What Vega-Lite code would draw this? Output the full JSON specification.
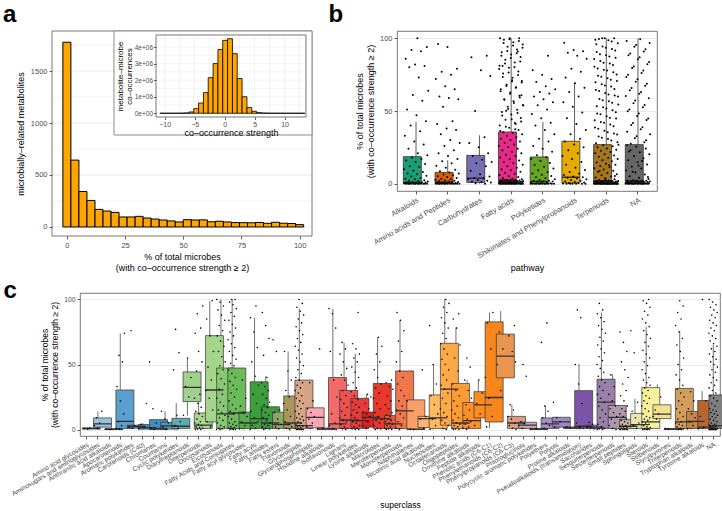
{
"$schema":"https://vega.github.io/schema/vega-lite/v6.json",
"background":"white",
"padding":{"left":3,"top":2,"right":0,"bottom":0},
"config":{
"font":"Liberation Sans",
"view":{"stroke":"#555555","strokeWidth":0.8},
"axis":{"domain":false,"tickColor":"#333333","tickSize":3,"tickWidth":0.8,"labelColor":"#4D4D4D","labelFontSize":7.5,"labelPadding":2,"titleFontSize":9,"titleFontWeight":"normal","titleColor":"#000000","gridColor":"#E6E6E6","gridWidth":0.9,"titlePadding":4,"labelOverlap":false},
"title":{"fontSize":24,"fontWeight":"bold","font":"Liberation Sans","anchor":"start","color":"#000000"}
},
"datasets":{
"ha":[{"lo":-1.72,"hi":1.72,"n":1777},{"lo":1.72,"hi":5.17,"n":643},{"lo":5.17,"hi":8.62,"n":341},{"lo":8.62,"hi":12.07,"n":255},{"lo":12.07,"hi":15.52,"n":169},{"lo":15.52,"hi":18.97,"n":153},{"lo":18.97,"hi":22.41,"n":140},{"lo":22.41,"hi":25.86,"n":96},{"lo":25.86,"hi":29.31,"n":96},{"lo":29.31,"hi":32.76,"n":102},{"lo":32.76,"hi":36.21,"n":86},{"lo":36.21,"hi":39.66,"n":76},{"lo":39.66,"hi":43.1,"n":67},{"lo":43.1,"hi":46.55,"n":58},{"lo":46.55,"hi":50,"n":48},{"lo":50,"hi":53.45,"n":70},{"lo":53.45,"hi":56.9,"n":67},{"lo":56.9,"hi":60.34,"n":68},{"lo":60.34,"hi":63.79,"n":50},{"lo":63.79,"hi":67.24,"n":55},{"lo":67.24,"hi":70.69,"n":48},{"lo":70.69,"hi":74.14,"n":42},{"lo":74.14,"hi":77.59,"n":41},{"lo":77.59,"hi":81.03,"n":40},{"lo":81.03,"hi":84.48,"n":43},{"lo":84.48,"hi":87.93,"n":35},{"lo":87.93,"hi":91.38,"n":45},{"lo":91.38,"hi":94.83,"n":36},{"lo":94.83,"hi":98.28,"n":33},{"lo":98.28,"hi":101.72,"n":22}],
"hi":[{"lo":-10.8,"hi":-9.99,"n":1000},{"lo":-9.99,"hi":-9.19,"n":1500},{"lo":-9.19,"hi":-8.38,"n":2500},{"lo":-8.38,"hi":-7.57,"n":4000},{"lo":-7.57,"hi":-6.77,"n":8000},{"lo":-6.77,"hi":-5.96,"n":20000},{"lo":-5.96,"hi":-5.16,"n":80000},{"lo":-5.16,"hi":-4.35,"n":280000},{"lo":-4.35,"hi":-3.54,"n":620000},{"lo":-3.54,"hi":-2.74,"n":1250000},{"lo":-2.74,"hi":-1.93,"n":2150000},{"lo":-1.93,"hi":-1.12,"n":3000000},{"lo":-1.12,"hi":-0.32,"n":3850000},{"lo":-0.32,"hi":0.49,"n":4400000},{"lo":0.49,"hi":1.3,"n":4500000},{"lo":1.3,"hi":2.1,"n":3600000},{"lo":2.1,"hi":2.91,"n":2100000},{"lo":2.91,"hi":3.72,"n":1000000},{"lo":3.72,"hi":4.52,"n":350000},{"lo":4.52,"hi":5.33,"n":120000},{"lo":5.33,"hi":6.14,"n":40000},{"lo":6.14,"hi":6.94,"n":15000},{"lo":6.94,"hi":7.75,"n":6000},{"lo":7.75,"hi":8.56,"n":3000},{"lo":8.56,"hi":9.36,"n":2000},{"lo":9.36,"hi":10.17,"n":1000},{"lo":10.17,"hi":10.98,"n":1000},{"lo":10.98,"hi":11.78,"n":800},{"lo":11.78,"hi":12.59,"n":500},{"lo":12.59,"hi":13.4,"n":500}],
"gx":[{"g":-10},{"g":-7.5},{"g":-5},{"g":-2.5},{"g":0},{"g":2.5},{"g":5},{"g":7.5},{"g":10},{"g":12.5}],
"gy":[{"g":0},{"g":500000},{"g":1000000},{"g":1500000},{"g":2000000},{"g":2500000},{"g":3000000},{"g":3500000},{"g":4000000},{"g":4500000}],
"gmaj":[{"g":0},{"g":500},{"g":1000},{"g":1500}],
"gmin":[{"g":250},{"g":750},{"g":1250},{"g":1750}],
"bb":[{"k":0,"p":"Alkaloids","lw":0,"q1":0,"med":0.9,"q3":18.6,"uw":42.5},{"k":1,"p":"Amino acids and Peptides","lw":0,"q1":0,"med":1.1,"q3":7.8,"uw":16.1},{"k":2,"p":"Carbohydrates","lw":0,"q1":0.9,"med":3.7,"q3":19.5,"uw":33.3},{"k":3,"p":"Fatty acids","lw":0,"q1":0.3,"med":2.5,"q3":35.6,"uw":100},{"k":4,"p":"Polyketides","lw":0,"q1":0,"med":1.6,"q3":18.4,"uw":42.5},{"k":5,"p":"Shikimates and Phenylpropanoids","lw":0,"q1":0.5,"med":4.5,"q3":29.2,"uw":69.2},{"k":6,"p":"Terpenoids","lw":0,"q1":0,"med":2,"q3":26.9,"uw":100},{"k":7,"p":"NA","lw":0,"q1":0,"med":2,"q3":26.9,"uw":100}],
"bp":[
{"k":0,"v":0},{"k":0,"v":0},{"k":0,"v":0},{"k":0,"v":0},{"k":0,"v":0},{"k":0,"v":0},{"k":0,"v":0},{"k":0,"v":0},{"k":0,"v":0},{"k":0,"v":0},{"k":0,"v":0},{"k":0,"v":0},{"k":0,"v":0.3},{"k":0,"v":0.5},{"k":0,"v":0.5},{"k":0,"v":0.8},{"k":0,"v":0.9},{"k":0,"v":1},{"k":0,"v":1},{"k":0,"v":1.2},{"k":0,"v":1.5},{"k":0,"v":1.8},{"k":0,"v":2},{"k":0,"v":2.4},{"k":0,"v":3},{"k":0,"v":3.5},{"k":0,"v":4},{"k":0,"v":5},{"k":0,"v":5.5},{"k":0,"v":6.5},{"k":0,"v":7},{"k":0,"v":8},{"k":0,"v":9},{"k":0,"v":10},{"k":0,"v":11.5},{"k":0,"v":12},{"k":0,"v":13.5},{"k":0,"v":15},{"k":0,"v":16},{"k":0,"v":17},{"k":0,"v":18},{"k":0,"v":19.5},{"k":0,"v":21},{"k":0,"v":24},{"k":0,"v":27},{"k":0,"v":29},{"k":0,"v":33},{"k":0,"v":36},{"k":0,"v":40},{"k":0,"v":43},{"k":0,"v":47},{"k":0,"v":51},{"k":0,"v":57},{"k":0,"v":61},{"k":0,"v":64},{"k":0,"v":73},{"k":0,"v":80},{"k":0,"v":81},{"k":0,"v":82},{"k":0,"v":86},{"k":0,"v":91},{"k":0,"v":92},{"k":0,"v":94},{"k":0,"v":100},
{"k":1,"v":0},{"k":1,"v":0},{"k":1,"v":0},{"k":1,"v":0},{"k":1,"v":0},{"k":1,"v":0},{"k":1,"v":0},{"k":1,"v":0},{"k":1,"v":0},{"k":1,"v":0},{"k":1,"v":0},{"k":1,"v":0},{"k":1,"v":0.2},{"k":1,"v":0.4},{"k":1,"v":0.5},{"k":1,"v":0.7},{"k":1,"v":0.9},{"k":1,"v":1},{"k":1,"v":1.1},{"k":1,"v":1.2},{"k":1,"v":1.5},{"k":1,"v":1.8},{"k":1,"v":2},{"k":1,"v":2.2},{"k":1,"v":2.7},{"k":1,"v":3},{"k":1,"v":3.4},{"k":1,"v":4},{"k":1,"v":4.6},{"k":1,"v":5.1},{"k":1,"v":5.8},{"k":1,"v":6.4},{"k":1,"v":7},{"k":1,"v":7.7},{"k":1,"v":8.5},{"k":1,"v":9.6},{"k":1,"v":11},{"k":1,"v":12.4},{"k":1,"v":14},{"k":1,"v":15.5},{"k":1,"v":17},{"k":1,"v":19},{"k":1,"v":21},{"k":1,"v":23},{"k":1,"v":26},{"k":1,"v":28},{"k":1,"v":30},{"k":1,"v":34},{"k":1,"v":37},{"k":1,"v":38},{"k":1,"v":41},{"k":1,"v":43},{"k":1,"v":53},{"k":1,"v":58},{"k":1,"v":59},{"k":1,"v":60},{"k":1,"v":65},{"k":1,"v":67},{"k":1,"v":72},{"k":1,"v":75},{"k":1,"v":77},{"k":1,"v":79},{"k":1,"v":94},{"k":1,"v":96},
{"k":2,"v":0},{"k":2,"v":0.4},{"k":2,"v":0.9},{"k":2,"v":1},{"k":2,"v":1.4},{"k":2,"v":2},{"k":2,"v":2.6},{"k":2,"v":3.2},{"k":2,"v":3.7},{"k":2,"v":4},{"k":2,"v":5},{"k":2,"v":6.5},{"k":2,"v":9},{"k":2,"v":12},{"k":2,"v":14},{"k":2,"v":15},{"k":2,"v":16.5},{"k":2,"v":19},{"k":2,"v":21},{"k":2,"v":25},{"k":2,"v":28},{"k":2,"v":32},{"k":2,"v":50},{"k":2,"v":74},{"k":2,"v":78},{"k":2,"v":87},{"k":2,"v":88},
{"k":3,"v":0},{"k":3,"v":0},{"k":3,"v":0},{"k":3,"v":0},{"k":3,"v":0},{"k":3,"v":0},{"k":3,"v":0},{"k":3,"v":0},{"k":3,"v":0},{"k":3,"v":0},{"k":3,"v":0},{"k":3,"v":0},{"k":3,"v":0},{"k":3,"v":0},{"k":3,"v":0},{"k":3,"v":0},{"k":3,"v":0},{"k":3,"v":0},{"k":3,"v":0},{"k":3,"v":0},{"k":3,"v":0.3},{"k":3,"v":0.3},{"k":3,"v":0.3},{"k":3,"v":0.3},{"k":3,"v":0.3},{"k":3,"v":0.6},{"k":3,"v":0.6},{"k":3,"v":0.6},{"k":3,"v":0.6},{"k":3,"v":0.6},{"k":3,"v":1},{"k":3,"v":1},{"k":3,"v":1},{"k":3,"v":1},{"k":3,"v":1},{"k":3,"v":1.4},{"k":3,"v":1.4},{"k":3,"v":1.4},{"k":3,"v":1.4},{"k":3,"v":1.4},{"k":3,"v":1.9},{"k":3,"v":1.9},{"k":3,"v":1.9},{"k":3,"v":1.9},{"k":3,"v":1.9},{"k":3,"v":2.3},{"k":3,"v":2.3},{"k":3,"v":2.3},{"k":3,"v":2.3},{"k":3,"v":2.3},
{"k":3,"v":2.6},{"k":3,"v":3},{"k":3,"v":3.5},{"k":3,"v":4},{"k":3,"v":4.6},{"k":3,"v":5.2},{"k":3,"v":6},{"k":3,"v":6.8},{"k":3,"v":7.5},{"k":3,"v":8.3},{"k":3,"v":9.2},{"k":3,"v":10},{"k":3,"v":11},{"k":3,"v":12},{"k":3,"v":13},{"k":3,"v":14},{"k":3,"v":15},{"k":3,"v":16},{"k":3,"v":17},{"k":3,"v":18},{"k":3,"v":19},{"k":3,"v":20},{"k":3,"v":21},{"k":3,"v":22},{"k":3,"v":23},{"k":3,"v":24},{"k":3,"v":25},{"k":3,"v":26},{"k":3,"v":27},{"k":3,"v":28},{"k":3,"v":29},{"k":3,"v":30},{"k":3,"v":31},{"k":3,"v":32},{"k":3,"v":33},{"k":3,"v":34},{"k":3,"v":34.8},{"k":3,"v":35.4},
{"k":3,"v":36.9},{"k":3,"v":38.4},{"k":3,"v":40.1},{"k":3,"v":41.7},{"k":3,"v":43.9},{"k":3,"v":45.2},{"k":3,"v":47.6},{"k":3,"v":49.3},{"k":3,"v":50.8},{"k":3,"v":52.9},{"k":3,"v":54.2},{"k":3,"v":56.7},{"k":3,"v":58.1},{"k":3,"v":60.4},{"k":3,"v":61.8},{"k":3,"v":63.5},{"k":3,"v":65.9},{"k":3,"v":67.2},{"k":3,"v":69.6},{"k":3,"v":71.1},{"k":3,"v":73.4},{"k":3,"v":74.8},{"k":3,"v":76.5},{"k":3,"v":78.9},{"k":3,"v":80.3},{"k":3,"v":82.6},{"k":3,"v":84.1},{"k":3,"v":86.4},{"k":3,"v":87.9},{"k":3,"v":89.7},{"k":3,"v":91.2},{"k":3,"v":93.5},{"k":3,"v":95.1},{"k":3,"v":96.8},{"k":3,"v":98.2},{"k":3,"v":99.4},{"k":3,"v":100},
{"k":3,"v":37.5},{"k":3,"v":39.2},{"k":3,"v":42.8},{"k":3,"v":44.4},{"k":3,"v":46.9},{"k":3,"v":48.6},{"k":3,"v":51.3},{"k":3,"v":53.7},{"k":3,"v":55.5},{"k":3,"v":57.8},{"k":3,"v":59.2},{"k":3,"v":62.7},{"k":3,"v":64.9},{"k":3,"v":66.3},{"k":3,"v":68.1},{"k":3,"v":70.6},{"k":3,"v":72.9},{"k":3,"v":75.7},{"k":3,"v":77.2},{"k":3,"v":79.8},{"k":3,"v":81.1},{"k":3,"v":83.4},{"k":3,"v":85.2},{"k":3,"v":87.1},{"k":3,"v":88.8},{"k":3,"v":90.4},{"k":3,"v":92.3},{"k":3,"v":94.1},{"k":3,"v":95.8},{"k":3,"v":97.3},{"k":3,"v":99},{"k":3,"v":100},{"k":3,"v":100},{"k":3,"v":36.2},{"k":3,"v":41.1},{"k":3,"v":50.1},{"k":3,"v":60.9},{"k":3,"v":70.2},{"k":3,"v":80.9},{"k":3,"v":90.9},
{"k":4,"v":0},{"k":4,"v":0},{"k":4,"v":0},{"k":4,"v":0},{"k":4,"v":0},{"k":4,"v":0},{"k":4,"v":0},{"k":4,"v":0},{"k":4,"v":0},{"k":4,"v":0},{"k":4,"v":0},{"k":4,"v":0},{"k":4,"v":0.3},{"k":4,"v":0.6},{"k":4,"v":0.9},{"k":4,"v":1.1},{"k":4,"v":1.3},{"k":4,"v":1.5},{"k":4,"v":1.6},{"k":4,"v":1.8},{"k":4,"v":2},{"k":4,"v":2.5},{"k":4,"v":3},{"k":4,"v":3.8},{"k":4,"v":4.5},{"k":4,"v":5.3},{"k":4,"v":6.2},{"k":4,"v":7},{"k":4,"v":8.1},{"k":4,"v":9.3},{"k":4,"v":10.4},{"k":4,"v":11.6},{"k":4,"v":12.9},{"k":4,"v":14.3},{"k":4,"v":15.8},{"k":4,"v":17},{"k":4,"v":18.2},{"k":4,"v":19.5},{"k":4,"v":22},{"k":4,"v":24},{"k":4,"v":26},{"k":4,"v":29},{"k":4,"v":31},{"k":4,"v":34},{"k":4,"v":37},{"k":4,"v":40},{"k":4,"v":42},{"k":4,"v":45},{"k":4,"v":48},{"k":4,"v":51},{"k":4,"v":54},{"k":4,"v":56},{"k":4,"v":58},{"k":4,"v":60},{"k":4,"v":62},{"k":4,"v":63},{"k":4,"v":65},{"k":4,"v":67},{"k":4,"v":70},{"k":4,"v":72},{"k":4,"v":75},{"k":4,"v":78},{"k":4,"v":88},
{"k":5,"v":0},{"k":5,"v":0},{"k":5,"v":0},{"k":5,"v":0},{"k":5,"v":0},{"k":5,"v":0},{"k":5,"v":0.2},{"k":5,"v":0.4},{"k":5,"v":0.5},{"k":5,"v":0.8},{"k":5,"v":1.2},{"k":5,"v":1.6},{"k":5,"v":2},{"k":5,"v":2.5},{"k":5,"v":3},{"k":5,"v":3.6},{"k":5,"v":4.1},{"k":5,"v":4.5},{"k":5,"v":5},{"k":5,"v":6},{"k":5,"v":7},{"k":5,"v":8},{"k":5,"v":9.5},{"k":5,"v":11},{"k":5,"v":13},{"k":5,"v":15},{"k":5,"v":17},{"k":5,"v":19},{"k":5,"v":21},{"k":5,"v":23},{"k":5,"v":25},{"k":5,"v":27},{"k":5,"v":29},{"k":5,"v":31},{"k":5,"v":34},{"k":5,"v":37},{"k":5,"v":41},{"k":5,"v":45},{"k":5,"v":49},{"k":5,"v":53},{"k":5,"v":56},{"k":5,"v":60},{"k":5,"v":63},{"k":5,"v":66},{"k":5,"v":69},{"k":5,"v":73},{"k":5,"v":77},{"k":5,"v":79},{"k":5,"v":86},{"k":5,"v":88},{"k":5,"v":90},{"k":5,"v":91},{"k":5,"v":92},{"k":5,"v":97},
{"k":6,"v":0},{"k":6,"v":0},{"k":6,"v":0},{"k":6,"v":0},{"k":6,"v":0},{"k":6,"v":0},{"k":6,"v":0},{"k":6,"v":0},{"k":6,"v":0},{"k":6,"v":0},{"k":6,"v":0},{"k":6,"v":0},{"k":6,"v":0},{"k":6,"v":0},{"k":6,"v":0},{"k":6,"v":0},{"k":6,"v":0},{"k":6,"v":0},{"k":6,"v":0},{"k":6,"v":0},{"k":6,"v":0},{"k":6,"v":0},{"k":6,"v":0},{"k":6,"v":0},{"k":6,"v":0},{"k":6,"v":0.3},{"k":6,"v":0.3},{"k":6,"v":0.3},{"k":6,"v":0.3},{"k":6,"v":0.3},{"k":6,"v":0.7},{"k":6,"v":0.7},{"k":6,"v":0.7},{"k":6,"v":0.7},{"k":6,"v":0.7},{"k":6,"v":1.1},{"k":6,"v":1.1},{"k":6,"v":1.1},{"k":6,"v":1.1},{"k":6,"v":1.1},{"k":6,"v":1.5},{"k":6,"v":1.5},{"k":6,"v":1.5},{"k":6,"v":1.5},{"k":6,"v":1.5},{"k":6,"v":1.9},{"k":6,"v":1.9},{"k":6,"v":1.9},{"k":6,"v":1.9},{"k":6,"v":1.9},
{"k":6,"v":2.2},{"k":6,"v":2.6},{"k":6,"v":3.1},{"k":6,"v":3.7},{"k":6,"v":4.3},{"k":6,"v":5},{"k":6,"v":5.8},{"k":6,"v":6.6},{"k":6,"v":7.4},{"k":6,"v":8.2},{"k":6,"v":9},{"k":6,"v":9.8},{"k":6,"v":10.6},{"k":6,"v":11.4},{"k":6,"v":12.2},{"k":6,"v":13},{"k":6,"v":13.8},{"k":6,"v":14.6},{"k":6,"v":15.4},{"k":6,"v":16.2},{"k":6,"v":17},{"k":6,"v":17.8},{"k":6,"v":18.6},{"k":6,"v":19.4},{"k":6,"v":20.2},{"k":6,"v":21},{"k":6,"v":21.8},{"k":6,"v":22.6},{"k":6,"v":23.4},{"k":6,"v":24.2},{"k":6,"v":25},{"k":6,"v":25.8},{"k":6,"v":26.5},{"k":6,"v":26.8},{"k":6,"v":12.7},{"k":6,"v":8.8},{"k":6,"v":5.3},{"k":6,"v":3.3},
{"k":6,"v":27.9},{"k":6,"v":29.8},{"k":6,"v":31.6},{"k":6,"v":33.9},{"k":6,"v":35.4},{"k":6,"v":37.8},{"k":6,"v":39.5},{"k":6,"v":41.9},{"k":6,"v":43.6},{"k":6,"v":45.3},{"k":6,"v":47.7},{"k":6,"v":49.1},{"k":6,"v":51.8},{"k":6,"v":53.2},{"k":6,"v":55.6},{"k":6,"v":57.4},{"k":6,"v":59.9},{"k":6,"v":61.3},{"k":6,"v":63.7},{"k":6,"v":65.2},{"k":6,"v":67.5},{"k":6,"v":69.8},{"k":6,"v":71.4},{"k":6,"v":73.6},{"k":6,"v":75.1},{"k":6,"v":77.9},{"k":6,"v":79.3},{"k":6,"v":81.6},{"k":6,"v":83.2},{"k":6,"v":85.8},{"k":6,"v":87.5},{"k":6,"v":89.1},{"k":6,"v":91.6},{"k":6,"v":93.4},{"k":6,"v":95.9},{"k":6,"v":97.7},{"k":6,"v":100},
{"k":6,"v":28.5},{"k":6,"v":30.7},{"k":6,"v":32.4},{"k":6,"v":34.6},{"k":6,"v":36.5},{"k":6,"v":38.6},{"k":6,"v":40.7},{"k":6,"v":42.5},{"k":6,"v":44.8},{"k":6,"v":46.4},{"k":6,"v":48.3},{"k":6,"v":50.5},{"k":6,"v":52.6},{"k":6,"v":54.4},{"k":6,"v":56.7},{"k":6,"v":58.3},{"k":6,"v":60.6},{"k":6,"v":62.4},{"k":6,"v":64.5},{"k":6,"v":66.8},{"k":6,"v":68.4},{"k":6,"v":70.6},{"k":6,"v":72.5},{"k":6,"v":74.3},{"k":6,"v":76.7},{"k":6,"v":78.4},{"k":6,"v":80.5},{"k":6,"v":82.7},{"k":6,"v":84.4},{"k":6,"v":86.6},{"k":6,"v":88.3},{"k":6,"v":90.5},{"k":6,"v":92.7},{"k":6,"v":94.4},{"k":6,"v":96.5},{"k":6,"v":98.6},{"k":6,"v":99.5},{"k":6,"v":100},{"k":6,"v":100},{"k":6,"v":99},
{"k":7,"v":0},{"k":7,"v":0},{"k":7,"v":0},{"k":7,"v":0},{"k":7,"v":0},{"k":7,"v":0},{"k":7,"v":0},{"k":7,"v":0},{"k":7,"v":0},{"k":7,"v":0},{"k":7,"v":0},{"k":7,"v":0},{"k":7,"v":0},{"k":7,"v":0},{"k":7,"v":0},{"k":7,"v":0.4},{"k":7,"v":0.4},{"k":7,"v":0.4},{"k":7,"v":0.4},{"k":7,"v":0.8},{"k":7,"v":0.8},{"k":7,"v":0.8},{"k":7,"v":0.8},{"k":7,"v":1.2},{"k":7,"v":1.2},{"k":7,"v":1.2},{"k":7,"v":1.2},{"k":7,"v":1.6},{"k":7,"v":1.6},{"k":7,"v":1.6},{"k":7,"v":1.6},{"k":7,"v":2},{"k":7,"v":2},{"k":7,"v":2},{"k":7,"v":2},
{"k":7,"v":2.4},{"k":7,"v":3.2},{"k":7,"v":4.1},{"k":7,"v":5.2},{"k":7,"v":6.4},{"k":7,"v":7.7},{"k":7,"v":9.1},{"k":7,"v":10.5},{"k":7,"v":11.9},{"k":7,"v":13.3},{"k":7,"v":14.8},{"k":7,"v":16.2},{"k":7,"v":17.6},{"k":7,"v":19},{"k":7,"v":20.3},{"k":7,"v":21.7},{"k":7,"v":23},{"k":7,"v":24.2},{"k":7,"v":25.4},{"k":7,"v":26.4},{"k":7,"v":15.7},{"k":7,"v":8.3},{"k":7,"v":4.6},{"k":7,"v":12.6},{"k":7,"v":22.1},
{"k":7,"v":28.6},{"k":7,"v":31.2},{"k":7,"v":34.1},{"k":7,"v":37.4},{"k":7,"v":40.3},{"k":7,"v":43.8},{"k":7,"v":46.5},{"k":7,"v":49.9},{"k":7,"v":52.6},{"k":7,"v":55.3},{"k":7,"v":58.7},{"k":7,"v":61.8},{"k":7,"v":64.2},{"k":7,"v":67.3},{"k":7,"v":70.1},{"k":7,"v":73.4},{"k":7,"v":76.2},{"k":7,"v":79.5},{"k":7,"v":82.1},{"k":7,"v":85.6},{"k":7,"v":88.3},{"k":7,"v":90.9},{"k":7,"v":94.2},{"k":7,"v":96.7},{"k":7,"v":99.4},
{"k":7,"v":27.5},{"k":7,"v":29.9},{"k":7,"v":32.6},{"k":7,"v":35.8},{"k":7,"v":38.9},{"k":7,"v":41.7},{"k":7,"v":44.9},{"k":7,"v":48.2},{"k":7,"v":51.1},{"k":7,"v":54.1},{"k":7,"v":57.2},{"k":7,"v":60.3},{"k":7,"v":63.1},{"k":7,"v":65.8},{"k":7,"v":68.7},{"k":7,"v":71.8},{"k":7,"v":74.9},{"k":7,"v":77.8},{"k":7,"v":80.6},{"k":7,"v":83.7},{"k":7,"v":86.9},{"k":7,"v":89.6},{"k":7,"v":92.5},{"k":7,"v":95.4},{"k":7,"v":98.2}
],
"cb":[{"k":0,"s":"Amino acid glycosides","lw":0,"q1":0.3,"med":0.8,"q3":1.2,"uw":1.5},{"k":1,"s":"Aminosugars and aminoglycosides","lw":0,"q1":1.8,"med":4.3,"q3":8.9,"uw":13.9},{"k":2,"s":"Anthranilic acid alkaloids","lw":0,"q1":0,"med":0.2,"q3":0.5,"uw":0.8},{"k":3,"s":"Apocarotenoids","lw":0,"q1":0.8,"med":6.3,"q3":30.4,"uw":73.9},{"k":4,"s":"Aromatic polyketides","lw":0.5,"q1":1,"med":2.3,"q3":3.3,"uw":3.8},{"k":5,"s":"Carotenoids (C40)","lw":0,"q1":0.3,"med":1.5,"q3":3.8,"uw":5},{"k":6,"s":"Chromanes","lw":0,"q1":0,"med":0.8,"q3":7.6,"uw":7.6},{"k":7,"s":"Coumarins","lw":0,"q1":0.3,"med":2.8,"q3":5.6,"uw":13.9},{"k":8,"s":"Cyclic polyketides","lw":0,"q1":0.8,"med":2.5,"q3":8.6,"uw":20.3},{"k":9,"s":"Diarylheptanoids","lw":10.6,"q1":21.5,"med":32.4,"q3":44.3,"uw":54.9},{"k":10,"s":"Diterpenoids","lw":0,"q1":0.8,"med":3.3,"q3":12.7,"uw":29},{"k":11,"s":"Docosanoids","lw":1.3,"q1":5.8,"med":30.4,"q3":72.2,"uw":98.7},{"k":12,"s":"Eicosanoids","lw":0,"q1":0.8,"med":12,"q3":47.3,"uw":100},{"k":13,"s":"Fatty Acids and Conjugates","lw":0,"q1":0.8,"med":12.7,"q3":47.3,"uw":100},{"k":14,"s":"Fatty acyl glycosides","lw":0,"q1":0.8,"med":5,"q3":13.4,"uw":20.3},{"k":15,"s":"Fatty acyls","lw":0,"q1":0.8,"med":8.4,"q3":36.7,"uw":86.1},{"k":16,"s":"Fatty amides","lw":0,"q1":0.8,"med":5,"q3":17.5,"uw":41},{"k":17,"s":"Fatty esters","lw":0,"q1":0.8,"med":3.8,"q3":13.4,"uw":15.2},{"k":18,"s":"Flavonoids","lw":0,"q1":0.8,"med":5,"q3":25.8,"uw":60},{"k":19,"s":"Glycerolipids","lw":0,"q1":0.8,"med":3,"q3":38,"uw":93},{"k":20,"s":"Glycerophospholipids","lw":0,"q1":1.3,"med":9.4,"q3":16.7,"uw":36.7},{"k":21,"s":"Histidine alkaloids","lw":0,"q1":0,"med":0.5,"q3":1.2,"uw":1.5},{"k":22,"s":"Isoflavonoids","lw":0,"q1":0.8,"med":4.3,"q3":40,"uw":92.9},{"k":23,"s":"Lignans","lw":0,"q1":0.8,"med":7.3,"q3":30.1,"uw":66.6},{"k":24,"s":"Linear polyketides","lw":0,"q1":0.8,"med":6.8,"q3":24,"uw":58.2},{"k":25,"s":"Lysine alkaloids","lw":0,"q1":1.8,"med":9.4,"q3":13.4,"uw":27},{"k":26,"s":"Macrolides","lw":0,"q1":0.8,"med":8.1,"q3":35.4,"uw":70.9},{"k":27,"s":"Meroterpenoids","lw":0,"q1":0.8,"med":4.3,"q3":10.9,"uw":31},{"k":28,"s":"Monoterpenoids","lw":0,"q1":0.8,"med":14.4,"q3":45,"uw":84.3},{"k":29,"s":"Naphthalenes","lw":0,"q1":0,"med":0.3,"q3":22.8,"uw":45.6},{"k":30,"s":"Nicotinic acid alkaloids","lw":0.5,"q1":1.5,"med":8.4,"q3":10.1,"uw":10.9},{"k":31,"s":"Nucleosides","lw":0,"q1":0.8,"med":8.9,"q3":26.6,"uw":49.9},{"k":32,"s":"Octadecanoids","lw":0,"q1":3.3,"med":31.1,"q3":66.3,"uw":100},{"k":33,"s":"Oligopeptides","lw":0,"q1":0.8,"med":5,"q3":35.4,"uw":78.5},{"k":34,"s":"Ornithine alkaloids","lw":0,"q1":0.8,"med":6.8,"q3":20.8,"uw":38},{"k":35,"s":"Peptide alkaloids","lw":0.8,"q1":8.9,"med":19,"q3":29.1,"uw":38},{"k":36,"s":"Phenolic acids (C6-C1)","lw":0.8,"q1":5.8,"med":24.6,"q3":82.8,"uw":90},{"k":37,"s":"Phenylethanoids (C6-C2)","lw":23.5,"q1":39.7,"med":56.5,"q3":73.4,"uw":91.1},{"k":38,"s":"Phenylpropanoids (C6-C3)","lw":0,"q1":0.8,"med":5,"q3":10.1,"uw":19},{"k":39,"s":"Phloroglucinols","lw":0,"q1":0.8,"med":3.3,"q3":5.6,"uw":6.8},{"k":40,"s":"Polycyclic aromatic polyketides","lw":0,"q1":0,"med":0.4,"q3":0.8,"uw":1},{"k":41,"s":"Polyethers","lw":0,"q1":0.8,"med":4.3,"q3":8.9,"uw":18.2},{"k":42,"s":"Polyols","lw":1.8,"q1":1.8,"med":5.8,"q3":9.4,"uw":9.4},{"k":43,"s":"Proline alkaloids","lw":0.8,"q1":0.8,"med":1.3,"q3":2,"uw":2},{"k":44,"s":"Pseudoalkaloids (transamidation)","lw":0,"q1":0.8,"med":2.5,"q3":29.9,"uw":50.6},{"k":45,"s":"Saccharides","lw":0,"q1":0.8,"med":1.8,"q3":3.3,"uw":5.6},{"k":46,"s":"Sesquiterpenoids","lw":0,"q1":0.8,"med":21,"q3":38.7,"uw":89.9},{"k":47,"s":"Sesterterpenoids","lw":0,"q1":0.8,"med":9.4,"q3":18.5,"uw":42.3},{"k":48,"s":"Small peptides","lw":0,"q1":0.8,"med":2.5,"q3":7.6,"uw":15.2},{"k":49,"s":"Sphingolipids","lw":0,"q1":0.8,"med":3.8,"q3":12.4,"uw":23.5},{"k":50,"s":"Steroids","lw":0,"q1":0.8,"med":5.8,"q3":32.2,"uw":79},{"k":51,"s":"Stilbenoids","lw":7.1,"q1":8.4,"med":11.9,"q3":19,"uw":34.7},{"k":52,"s":"Styrylpyrones","lw":0,"q1":0,"med":0.4,"q3":0.8,"uw":1},{"k":53,"s":"Triterpenoids","lw":0,"q1":0.8,"med":5.8,"q3":31.6,"uw":76},{"k":54,"s":"Tryptophan alkaloids","lw":0,"q1":0.8,"med":6.3,"q3":13.9,"uw":29.1},{"k":55,"s":"Tyrosine alkaloids","lw":0,"q1":0.8,"med":1.8,"q3":22.3,"uw":29.6},{"k":56,"s":"NA","lw":0,"q1":0.8,"med":3,"q3":26.6,"uw":65}],
"cp":[
{"k":0,"v":0.3},{"k":0,"v":0.8},{"k":0,"v":1.2},
{"k":1,"v":1},{"k":1,"v":3},{"k":1,"v":5},{"k":1,"v":9},{"k":1,"v":14},
{"k":2,"v":0},{"k":2,"v":0.2},{"k":2,"v":0.5},
{"k":3,"v":0.5},{"k":3,"v":1},{"k":3,"v":3},{"k":3,"v":6},{"k":3,"v":12},{"k":3,"v":22},{"k":3,"v":33},{"k":3,"v":52},{"k":3,"v":57},{"k":3,"v":74},
{"k":4,"v":1},{"k":4,"v":2},{"k":4,"v":3},{"k":4,"v":76},
{"k":5,"v":0.5},{"k":5,"v":2},{"k":5,"v":4},{"k":5,"v":20},
{"k":6,"v":0},{"k":6,"v":1},{"k":6,"v":5},{"k":6,"v":16},{"k":6,"v":52},
{"k":7,"v":0},{"k":7,"v":2},{"k":7,"v":5},{"k":7,"v":8},{"k":7,"v":14},
{"k":8,"v":1},{"k":8,"v":3},{"k":8,"v":6},{"k":8,"v":11},{"k":8,"v":46},{"k":8,"v":59},{"k":8,"v":77},
{"k":9,"v":11},{"k":9,"v":25},{"k":9,"v":33},{"k":9,"v":40},{"k":9,"v":55},
{"k":10,"v":0},{"k":10,"v":0},{"k":10,"v":0.5},{"k":10,"v":1},{"k":10,"v":1.5},{"k":10,"v":2},{"k":10,"v":3},{"k":10,"v":4},{"k":10,"v":5},{"k":10,"v":6},{"k":10,"v":8},{"k":10,"v":10},{"k":10,"v":12},{"k":10,"v":14},{"k":10,"v":17},{"k":10,"v":20},{"k":10,"v":24},{"k":10,"v":27},{"k":10,"v":45},{"k":10,"v":52},{"k":10,"v":60},{"k":10,"v":74},{"k":10,"v":78},{"k":10,"v":89},{"k":10,"v":95},
{"k":11,"v":2},{"k":11,"v":6},{"k":11,"v":15},{"k":11,"v":24},{"k":11,"v":30},{"k":11,"v":38},{"k":11,"v":48},{"k":11,"v":60},{"k":11,"v":72},{"k":11,"v":85},{"k":11,"v":99},
{"k":12,"v":0},{"k":12,"v":0},{"k":12,"v":0.5},{"k":12,"v":1},{"k":12,"v":2},{"k":12,"v":3},{"k":12,"v":5},{"k":12,"v":7},{"k":12,"v":9},{"k":12,"v":11},{"k":12,"v":13},{"k":12,"v":15},{"k":12,"v":18},{"k":12,"v":21},{"k":12,"v":24},{"k":12,"v":27},{"k":12,"v":31},{"k":12,"v":35},{"k":12,"v":39},{"k":12,"v":43},{"k":12,"v":46},{"k":12,"v":49},{"k":12,"v":52},{"k":12,"v":56},{"k":12,"v":60},{"k":12,"v":64},{"k":12,"v":68},{"k":12,"v":72},{"k":12,"v":76},{"k":12,"v":80},{"k":12,"v":84},{"k":12,"v":88},{"k":12,"v":92},{"k":12,"v":95},{"k":12,"v":98},{"k":12,"v":100},
{"k":13,"v":0},{"k":13,"v":0},{"k":13,"v":0},{"k":13,"v":0.5},{"k":13,"v":1},{"k":13,"v":1.5},{"k":13,"v":2},{"k":13,"v":3},{"k":13,"v":4},{"k":13,"v":5},{"k":13,"v":6},{"k":13,"v":8},{"k":13,"v":10},{"k":13,"v":12},{"k":13,"v":14},{"k":13,"v":16},{"k":13,"v":19},{"k":13,"v":22},{"k":13,"v":25},{"k":13,"v":28},{"k":13,"v":31},{"k":13,"v":34},{"k":13,"v":37},{"k":13,"v":40},{"k":13,"v":43},{"k":13,"v":46},{"k":13,"v":49},{"k":13,"v":51},{"k":13,"v":54},{"k":13,"v":57},{"k":13,"v":60},{"k":13,"v":63},{"k":13,"v":66},{"k":13,"v":69},{"k":13,"v":72},{"k":13,"v":75},{"k":13,"v":78},{"k":13,"v":81},{"k":13,"v":84},{"k":13,"v":87},{"k":13,"v":90},{"k":13,"v":93},{"k":13,"v":96},{"k":13,"v":98},{"k":13,"v":100},{"k":13,"v":100},
{"k":14,"v":0.5},{"k":14,"v":3},{"k":14,"v":6},{"k":14,"v":10},{"k":14,"v":13},{"k":14,"v":18},{"k":14,"v":24},{"k":14,"v":38},
{"k":15,"v":0},{"k":15,"v":1},{"k":15,"v":3},{"k":15,"v":6},{"k":15,"v":9},{"k":15,"v":14},{"k":15,"v":20},{"k":15,"v":27},{"k":15,"v":34},{"k":15,"v":41},{"k":15,"v":52},{"k":15,"v":63},{"k":15,"v":75},{"k":15,"v":86},{"k":15,"v":95},
{"k":16,"v":0},{"k":16,"v":0.5},{"k":16,"v":1},{"k":16,"v":2},{"k":16,"v":3},{"k":16,"v":4},{"k":16,"v":5},{"k":16,"v":7},{"k":16,"v":9},{"k":16,"v":11},{"k":16,"v":13},{"k":16,"v":15},{"k":16,"v":17},{"k":16,"v":19},{"k":16,"v":21},{"k":16,"v":24},{"k":16,"v":27},{"k":16,"v":30},{"k":16,"v":33},{"k":16,"v":36},{"k":16,"v":40},{"k":16,"v":57},{"k":16,"v":70},{"k":16,"v":80},{"k":16,"v":90},
{"k":17,"v":0.5},{"k":17,"v":2},{"k":17,"v":4},{"k":17,"v":8},{"k":17,"v":13},{"k":17,"v":15},{"k":17,"v":60},{"k":17,"v":69},
{"k":18,"v":0},{"k":18,"v":1},{"k":18,"v":2},{"k":18,"v":4},{"k":18,"v":6},{"k":18,"v":10},{"k":18,"v":15},{"k":18,"v":20},{"k":18,"v":25},{"k":18,"v":30},{"k":18,"v":38},{"k":18,"v":45},{"k":18,"v":60},
{"k":19,"v":0},{"k":19,"v":0},{"k":19,"v":0},{"k":19,"v":0},{"k":19,"v":0},{"k":19,"v":0},{"k":19,"v":0.5},{"k":19,"v":1},{"k":19,"v":1.5},{"k":19,"v":2},{"k":19,"v":2.5},{"k":19,"v":3},{"k":19,"v":4},{"k":19,"v":5},{"k":19,"v":6},{"k":19,"v":7},{"k":19,"v":8},{"k":19,"v":9},{"k":19,"v":10},{"k":19,"v":12},{"k":19,"v":14},{"k":19,"v":16},{"k":19,"v":18},{"k":19,"v":20},{"k":19,"v":22},{"k":19,"v":24},{"k":19,"v":26},{"k":19,"v":28},{"k":19,"v":30},{"k":19,"v":32},{"k":19,"v":34},{"k":19,"v":36},{"k":19,"v":38},{"k":19,"v":40},{"k":19,"v":43},{"k":19,"v":46},{"k":19,"v":49},{"k":19,"v":52},{"k":19,"v":55},{"k":19,"v":58},{"k":19,"v":61},{"k":19,"v":64},{"k":19,"v":67},{"k":19,"v":70},{"k":19,"v":73},{"k":19,"v":76},{"k":19,"v":79},{"k":19,"v":82},{"k":19,"v":85},{"k":19,"v":88},{"k":19,"v":91},{"k":19,"v":94},{"k":19,"v":97},{"k":19,"v":100},
{"k":20,"v":2},{"k":20,"v":5},{"k":20,"v":8},{"k":20,"v":10},{"k":20,"v":13},{"k":20,"v":16},{"k":20,"v":22},{"k":20,"v":36},
{"k":21,"v":0.5},{"k":21,"v":1},{"k":21,"v":62},
{"k":22,"v":0},{"k":22,"v":1},{"k":22,"v":3},{"k":22,"v":5},{"k":22,"v":12},{"k":22,"v":25},{"k":22,"v":38},{"k":22,"v":60},{"k":22,"v":78},{"k":22,"v":89},{"k":22,"v":93},
{"k":23,"v":0},{"k":23,"v":0.5},{"k":23,"v":1},{"k":23,"v":2},{"k":23,"v":4},{"k":23,"v":6},{"k":23,"v":7},{"k":23,"v":9},{"k":23,"v":11},{"k":23,"v":14},{"k":23,"v":17},{"k":23,"v":20},{"k":23,"v":23},{"k":23,"v":26},{"k":23,"v":30},{"k":23,"v":34},{"k":23,"v":38},{"k":23,"v":42},{"k":23,"v":47},{"k":23,"v":52},{"k":23,"v":58},{"k":23,"v":62},{"k":23,"v":67},
{"k":24,"v":0},{"k":24,"v":0},{"k":24,"v":0.5},{"k":24,"v":1},{"k":24,"v":2},{"k":24,"v":3},{"k":24,"v":5},{"k":24,"v":6},{"k":24,"v":7},{"k":24,"v":9},{"k":24,"v":11},{"k":24,"v":13},{"k":24,"v":15},{"k":24,"v":17},{"k":24,"v":19},{"k":24,"v":21},{"k":24,"v":23},{"k":24,"v":26},{"k":24,"v":29},{"k":24,"v":32},{"k":24,"v":36},{"k":24,"v":40},{"k":24,"v":44},{"k":24,"v":48},{"k":24,"v":52},{"k":24,"v":55},{"k":24,"v":58},{"k":24,"v":62},{"k":24,"v":66},{"k":24,"v":90},
{"k":25,"v":1},{"k":25,"v":3},{"k":25,"v":6},{"k":25,"v":9},{"k":25,"v":10},{"k":25,"v":12},{"k":25,"v":13},{"k":25,"v":16},{"k":25,"v":20},{"k":25,"v":25},{"k":25,"v":27},
{"k":26,"v":0},{"k":26,"v":0.5},{"k":26,"v":1},{"k":26,"v":3},{"k":26,"v":5},{"k":26,"v":7},{"k":26,"v":8},{"k":26,"v":10},{"k":26,"v":13},{"k":26,"v":16},{"k":26,"v":20},{"k":26,"v":24},{"k":26,"v":28},{"k":26,"v":32},{"k":26,"v":35},{"k":26,"v":40},{"k":26,"v":46},{"k":26,"v":52},{"k":26,"v":58},{"k":26,"v":64},{"k":26,"v":71},
{"k":27,"v":0},{"k":27,"v":0},{"k":27,"v":0.5},{"k":27,"v":1},{"k":27,"v":2},{"k":27,"v":3},{"k":27,"v":4},{"k":27,"v":5},{"k":27,"v":6},{"k":27,"v":7},{"k":27,"v":8},{"k":27,"v":9},{"k":27,"v":10},{"k":27,"v":11},{"k":27,"v":13},{"k":27,"v":16},{"k":27,"v":19},{"k":27,"v":22},{"k":27,"v":26},{"k":27,"v":31},{"k":27,"v":33},{"k":27,"v":36},{"k":27,"v":38},
{"k":28,"v":0},{"k":28,"v":1},{"k":28,"v":3},{"k":28,"v":6},{"k":28,"v":9},{"k":28,"v":12},{"k":28,"v":15},{"k":28,"v":18},{"k":28,"v":22},{"k":28,"v":26},{"k":28,"v":30},{"k":28,"v":35},{"k":28,"v":40},{"k":28,"v":45},{"k":28,"v":52},{"k":28,"v":60},{"k":28,"v":68},{"k":28,"v":76},{"k":28,"v":84},{"k":28,"v":90},
{"k":29,"v":0},{"k":29,"v":0.3},{"k":29,"v":22},
{"k":30,"v":1},{"k":30,"v":8},{"k":30,"v":10},{"k":30,"v":46},
{"k":31,"v":0},{"k":31,"v":3},{"k":31,"v":8},{"k":31,"v":12},{"k":31,"v":19},{"k":31,"v":26},{"k":31,"v":35},{"k":31,"v":50},{"k":31,"v":80},
{"k":32,"v":0},{"k":32,"v":1},{"k":32,"v":3},{"k":32,"v":5},{"k":32,"v":7},{"k":32,"v":10},{"k":32,"v":13},{"k":32,"v":16},{"k":32,"v":20},{"k":32,"v":24},{"k":32,"v":28},{"k":32,"v":31},{"k":32,"v":34},{"k":32,"v":38},{"k":32,"v":42},{"k":32,"v":46},{"k":32,"v":50},{"k":32,"v":54},{"k":32,"v":58},{"k":32,"v":62},{"k":32,"v":66},{"k":32,"v":70},{"k":32,"v":74},{"k":32,"v":78},{"k":32,"v":82},{"k":32,"v":86},{"k":32,"v":90},{"k":32,"v":94},{"k":32,"v":97},{"k":32,"v":100},
{"k":33,"v":0},{"k":33,"v":0},{"k":33,"v":0.5},{"k":33,"v":1},{"k":33,"v":2},{"k":33,"v":3},{"k":33,"v":4},{"k":33,"v":5},{"k":33,"v":7},{"k":33,"v":9},{"k":33,"v":12},{"k":33,"v":15},{"k":33,"v":18},{"k":33,"v":22},{"k":33,"v":26},{"k":33,"v":30},{"k":33,"v":35},{"k":33,"v":45},{"k":33,"v":55},{"k":33,"v":65},{"k":33,"v":78},{"k":33,"v":85},{"k":33,"v":89},
{"k":34,"v":0},{"k":34,"v":1},{"k":34,"v":2},{"k":34,"v":4},{"k":34,"v":6},{"k":34,"v":8},{"k":34,"v":11},{"k":34,"v":15},{"k":34,"v":19},{"k":34,"v":24},{"k":34,"v":30},{"k":34,"v":38},{"k":34,"v":48},{"k":34,"v":55},
{"k":35,"v":3},{"k":35,"v":12},{"k":35,"v":20},{"k":35,"v":28},{"k":35,"v":38},
{"k":36,"v":2},{"k":36,"v":10},{"k":36,"v":24},{"k":36,"v":40},{"k":36,"v":62},{"k":36,"v":82},{"k":36,"v":90},
{"k":37,"v":30},{"k":37,"v":50},{"k":37,"v":62},{"k":37,"v":75},
{"k":38,"v":0},{"k":38,"v":1},{"k":38,"v":3},{"k":38,"v":5},{"k":38,"v":8},{"k":38,"v":10},{"k":38,"v":15},{"k":38,"v":19},{"k":38,"v":52},{"k":38,"v":60},{"k":38,"v":72},{"k":38,"v":80},
{"k":39,"v":1},{"k":39,"v":3},{"k":39,"v":4.5},{"k":39,"v":6},{"k":39,"v":41},{"k":39,"v":50},
{"k":40,"v":0},{"k":40,"v":0.5},
{"k":41,"v":1},{"k":41,"v":3},{"k":41,"v":5},{"k":41,"v":9},{"k":41,"v":14},{"k":41,"v":18},{"k":41,"v":67},{"k":41,"v":82},
{"k":42,"v":2},{"k":42,"v":6},{"k":42,"v":9},{"k":42,"v":21},
{"k":43,"v":1},{"k":43,"v":2},
{"k":44,"v":1},{"k":44,"v":2},{"k":44,"v":5},{"k":44,"v":20},{"k":44,"v":35},{"k":44,"v":50},{"k":44,"v":86},{"k":44,"v":92},
{"k":45,"v":0.5},{"k":45,"v":1.5},{"k":45,"v":2},{"k":45,"v":4},{"k":45,"v":5.6},
{"k":46,"v":0},{"k":46,"v":0},{"k":46,"v":0.5},{"k":46,"v":1},{"k":46,"v":2},{"k":46,"v":4},{"k":46,"v":6},{"k":46,"v":9},{"k":46,"v":12},{"k":46,"v":15},{"k":46,"v":18},{"k":46,"v":21},{"k":46,"v":24},{"k":46,"v":27},{"k":46,"v":30},{"k":46,"v":33},{"k":46,"v":36},{"k":46,"v":38},{"k":46,"v":41},{"k":46,"v":44},{"k":46,"v":47},{"k":46,"v":50},{"k":46,"v":53},{"k":46,"v":56},{"k":46,"v":59},{"k":46,"v":62},{"k":46,"v":65},{"k":46,"v":68},{"k":46,"v":71},{"k":46,"v":74},{"k":46,"v":77},{"k":46,"v":80},{"k":46,"v":83},{"k":46,"v":86},{"k":46,"v":89},{"k":46,"v":92},{"k":46,"v":97},
{"k":47,"v":0},{"k":47,"v":1},{"k":47,"v":3},{"k":47,"v":5},{"k":47,"v":8},{"k":47,"v":10},{"k":47,"v":13},{"k":47,"v":16},{"k":47,"v":18},{"k":47,"v":22},{"k":47,"v":27},{"k":47,"v":33},{"k":47,"v":42},
{"k":48,"v":0},{"k":48,"v":0},{"k":48,"v":0},{"k":48,"v":0},{"k":48,"v":0},{"k":48,"v":0},{"k":48,"v":0.5},{"k":48,"v":1},{"k":48,"v":1.5},{"k":48,"v":2},{"k":48,"v":2.5},{"k":48,"v":3},{"k":48,"v":4},{"k":48,"v":5},{"k":48,"v":6},{"k":48,"v":7},{"k":48,"v":8},{"k":48,"v":10},{"k":48,"v":12},{"k":48,"v":14},{"k":48,"v":16},{"k":48,"v":18},{"k":48,"v":22},{"k":48,"v":26},{"k":48,"v":30},{"k":48,"v":35},{"k":48,"v":40},{"k":48,"v":46},{"k":48,"v":52},{"k":48,"v":60},{"k":48,"v":67},{"k":48,"v":75},
{"k":49,"v":1},{"k":49,"v":3},{"k":49,"v":5},{"k":49,"v":9},{"k":49,"v":14},{"k":49,"v":21},{"k":49,"v":59},{"k":49,"v":76},
{"k":50,"v":0},{"k":50,"v":0},{"k":50,"v":0},{"k":50,"v":0},{"k":50,"v":0},{"k":50,"v":0.5},{"k":50,"v":1},{"k":50,"v":1.5},{"k":50,"v":2},{"k":50,"v":3},{"k":50,"v":4},{"k":50,"v":5},{"k":50,"v":6},{"k":50,"v":7},{"k":50,"v":8},{"k":50,"v":9},{"k":50,"v":10},{"k":50,"v":12},{"k":50,"v":14},{"k":50,"v":16},{"k":50,"v":18},{"k":50,"v":20},{"k":50,"v":22},{"k":50,"v":24},{"k":50,"v":26},{"k":50,"v":28},{"k":50,"v":30},{"k":50,"v":32},{"k":50,"v":34},{"k":50,"v":36},{"k":50,"v":38},{"k":50,"v":40},{"k":50,"v":43},{"k":50,"v":46},{"k":50,"v":49},{"k":50,"v":52},{"k":50,"v":55},{"k":50,"v":58},{"k":50,"v":61},{"k":50,"v":64},{"k":50,"v":67},{"k":50,"v":70},{"k":50,"v":73},{"k":50,"v":76},{"k":50,"v":79},{"k":50,"v":82},{"k":50,"v":85},{"k":50,"v":88},{"k":50,"v":91},{"k":50,"v":94},{"k":50,"v":97},{"k":50,"v":99},{"k":50,"v":100},
{"k":51,"v":8},{"k":51,"v":10},{"k":51,"v":12},{"k":51,"v":15},{"k":51,"v":25},
{"k":52,"v":0.3},{"k":52,"v":0.8},
{"k":53,"v":0},{"k":53,"v":0},{"k":53,"v":0.5},{"k":53,"v":1},{"k":53,"v":2},{"k":53,"v":3},{"k":53,"v":4},{"k":53,"v":5},{"k":53,"v":6},{"k":53,"v":8},{"k":53,"v":10},{"k":53,"v":13},{"k":53,"v":16},{"k":53,"v":19},{"k":53,"v":22},{"k":53,"v":25},{"k":53,"v":28},{"k":53,"v":31},{"k":53,"v":34},{"k":53,"v":38},{"k":53,"v":42},{"k":53,"v":46},{"k":53,"v":50},{"k":53,"v":55},{"k":53,"v":60},{"k":53,"v":65},{"k":53,"v":70},{"k":53,"v":75},{"k":53,"v":80},{"k":53,"v":85},{"k":53,"v":90},{"k":53,"v":95},{"k":53,"v":99},
{"k":54,"v":0.5},{"k":54,"v":3},{"k":54,"v":6},{"k":54,"v":9},{"k":54,"v":12},{"k":54,"v":16},{"k":54,"v":22},{"k":54,"v":29},
{"k":55,"v":0.5},{"k":55,"v":1.8},{"k":55,"v":10},{"k":55,"v":22},{"k":55,"v":100},
{"k":56,"v":0},{"k":56,"v":0},{"k":56,"v":0},{"k":56,"v":0},{"k":56,"v":0},{"k":56,"v":0},{"k":56,"v":0},{"k":56,"v":0},{"k":56,"v":0},{"k":56,"v":0},{"k":56,"v":0.5},{"k":56,"v":1},{"k":56,"v":1.5},{"k":56,"v":2},{"k":56,"v":2.5},{"k":56,"v":3},{"k":56,"v":3.5},{"k":56,"v":4},{"k":56,"v":5},{"k":56,"v":6},{"k":56,"v":7},{"k":56,"v":8},{"k":56,"v":9},{"k":56,"v":10},{"k":56,"v":11},{"k":56,"v":12},{"k":56,"v":13},{"k":56,"v":14},{"k":56,"v":15},{"k":56,"v":16},{"k":56,"v":18},{"k":56,"v":20},{"k":56,"v":22},{"k":56,"v":24},{"k":56,"v":26},{"k":56,"v":28},{"k":56,"v":30},{"k":56,"v":32},{"k":56,"v":34},{"k":56,"v":36},{"k":56,"v":38},{"k":56,"v":40},{"k":56,"v":42},{"k":56,"v":44},{"k":56,"v":46},{"k":56,"v":48},{"k":56,"v":50},{"k":56,"v":52},{"k":56,"v":54},{"k":56,"v":56},{"k":56,"v":58},{"k":56,"v":60},{"k":56,"v":62},{"k":56,"v":64},{"k":56,"v":66},{"k":56,"v":68},{"k":56,"v":70},{"k":56,"v":72},{"k":56,"v":74},{"k":56,"v":76},{"k":56,"v":78},{"k":56,"v":80},{"k":56,"v":82},{"k":56,"v":84},{"k":56,"v":86},{"k":56,"v":88},{"k":56,"v":90},{"k":56,"v":92},{"k":56,"v":94},{"k":56,"v":96},{"k":56,"v":98},{"k":56,"v":100}
]
},
"concat":[
{"hconcat":[
{"width":232,"height":205,
"view":{"stroke":null},
"title":{"text":"a","frame":"group","dx":-77,"offset":4},
"layer":[
{"layer":[
{"data":{"name":"gmaj"},
"mark":{"type":"rule","color":"#E6E6E6","strokeWidth":0.9},
"encoding":{"y":{"field":"g","type":"quantitative"},"x":{"datum":-6.4,"type":"quantitative"},"x2":{"datum":105.3}}},
{"data":{"name":"gmin"},
"mark":{"type":"rule","color":"#E6E6E6","strokeWidth":0.45},
"encoding":{"y":{"field":"g","type":"quantitative"},"x":{"datum":-6.4,"type":"quantitative"},"x2":{"datum":105.3}}},
{"data":{"name":"ha"},
"mark":{"type":"rect","fill":"#FFA500","stroke":"#000000","strokeWidth":1},
"encoding":{
"x":{"field":"lo","type":"quantitative","scale":{"domain":[-6.4,105.3],"range":[-28,232],"nice":false,"zero":false},
"axis":{"values":[0,12.5,25,37.5,50,62.5,75,87.5,100],"labelExpr":"datum.value % 25 == 0 ? datum.label : ''","tickOpacity":{"condition":{"test":"datum.value % 25 != 0","value":0},"value":1},"gridWidth":{"condition":{"test":"datum.value % 25 != 0","value":0.45},"value":0.9}},
"title":["% of total microbes","(with co–occurrence strength ≥ 2)"]},
"x2":{"field":"hi"},
"y":{"field":"n","type":"quantitative","scale":{"domain":[-87,1885],"nice":false},
"axis":{"values":[0,250,500,750,1000,1250,1500,1750],"labelExpr":"datum.value % 500 == 0 ? datum.label : ''","tickOpacity":{"condition":{"test":"datum.value % 500 != 0","value":0},"value":1},"grid":false,"offset":28,"format":"d","titlePadding":5},
"title":"microbially–related metabolites"},
"y2":{"datum":0}
}},
{"data":{"values":[{}]},
"mark":{"type":"rect","fill":null,"stroke":"#555555","strokeWidth":0.8},
"encoding":{"x":{"datum":-6.4,"type":"quantitative"},"x2":{"datum":105.3},"y":{"datum":-87,"type":"quantitative"},"y2":{"datum":1885}}}
]},
{"layer":[
{"data":{"values":[{}]},
"mark":{"type":"rect","fill":"#FFFFFF","stroke":"#8C8C8C","strokeWidth":1},
"encoding":{
"x":{"datum":-18.46,"type":"quantitative","scale":{"domain":[-11.45,13.57],"range":[76,226],"nice":false,"zero":false}},
"x2":{"datum":14.57},
"y":{"datum":-1312000,"type":"quantitative","scale":{"domain":[-225000,4725000],"range":[86,4],"nice":false,"zero":false}},
"y2":{"datum":4966000}}},
{"data":{"name":"gx"},
"mark":{"type":"rule","color":"#EBEBEB","strokeWidth":0.6},
"encoding":{"x":{"field":"g","type":"quantitative"},"y":{"datum":-225000,"type":"quantitative"},"y2":{"datum":4725000}}},
{"data":{"name":"gy"},
"mark":{"type":"rule","color":"#EBEBEB","strokeWidth":0.6},
"encoding":{"y":{"field":"g","type":"quantitative"},"x":{"datum":-11.45,"type":"quantitative"},"x2":{"datum":13.57}}},
{"data":{"name":"hi"},
"mark":{"type":"rect","fill":"#FFA500","stroke":"#000000","strokeWidth":0.8},
"encoding":{
"x":{"field":"lo","type":"quantitative","axis":{"orient":"bottom","offset":-119,"grid":false,"zindex":1,"values":[-10,-5,0,5,10],"labelFontSize":7,"labelPadding":1,"tickSize":2.5,"titleFontSize":9,"titlePadding":1},"title":"co–occurrence strength"},
"x2":{"field":"hi"},
"y":{"field":"n","type":"quantitative","axis":{"orient":"left","offset":-76,"grid":false,"zindex":1,"values":[0,1000000,2000000,3000000,4000000],"labelExpr":"replace(format(datum.value, '.0e'), 'e+', 'e+0')","labelFontSize":6.5,"labelPadding":1,"tickSize":2.5,"titleFontSize":8,"titlePadding":1,"titleLineHeight":9},"title":["metabolite–microbe","co–occurrences"]},
"y2":{"datum":0}
}},
{"data":{"values":[{}]},
"mark":{"type":"rect","fill":null,"stroke":"#555555","strokeWidth":0.8},
"encoding":{"x":{"datum":-11.45,"type":"quantitative"},"x2":{"datum":13.57},"y":{"datum":-225000,"type":"quantitative"},"y2":{"datum":4725000}}}
]}
],
"resolve":{"scale":{"x":"independent","y":"independent"},"axis":{"x":"independent","y":"independent"}}
},
{"width":260,"height":160,
"title":{"text":"b","dx":-27,"offset":4},
"layer":[
{"data":{"name":"bb"},
"mark":{"type":"rule","color":"#333333","strokeWidth":0.8},
"encoding":{
"x":{"field":"p","type":"nominal","sort":{"field":"k","op":"min"},"scale":{"type":"band","paddingInner":0,"paddingOuter":0.1},
"axis":{"labelAngle":-30,"labelAlign":"right","labelBaseline":"top","bandPosition":0.5,"labelFontSize":7.5},"title":"pathway"},
"y":{"field":"lw","type":"quantitative","scale":{"domain":[-5,105],"nice":false,"zero":false},
"axis":{"values":[0,12.5,25,37.5,50,62.5,75,87.5,100],"labelExpr":"datum.value % 25 == 0 ? datum.label : ''","tickOpacity":{"condition":{"test":"datum.value % 25 != 0","value":0},"value":1},"gridWidth":{"condition":{"test":"datum.value % 25 != 0","value":0.45},"value":0.9}},
"title":["% of total microbes","(with co–occurrence strength ≥ 2)"]},
"y2":{"field":"uw"}}},
{"data":{"name":"bb"},
"mark":{"type":"bar","width":{"band":0.8},"stroke":"#333333","strokeWidth":0.8},
"encoding":{
"x":{"field":"p","type":"nominal","sort":{"field":"k","op":"min"}},
"y":{"field":"q1","type":"quantitative"},"y2":{"field":"q3"},
"fill":{"field":"k","type":"ordinal","scale":{"range":["#1B9E77","#D95F02","#7570B3","#E7298A","#66A61E","#E6AB02","#A6761D","#666666"]},"legend":null}}},
{"data":{"name":"bb"},
"mark":{"type":"bar","width":{"band":0.8},"fill":null,"stroke":"#333333","strokeWidth":1.5},
"encoding":{
"x":{"field":"p","type":"nominal","sort":{"field":"k","op":"min"}},
"y":{"field":"med","type":"quantitative"},"y2":{"field":"med"}}},
{"data":{"name":"bp"},
"transform":[{"lookup":"k","from":{"data":{"name":"bb"},"key":"k","fields":["p"]}},{"window":[{"op":"row_number","as":"rn"}]},{"calculate":"(datum.rn * 0.618034) % 1","as":"j"}],
"mark":{"type":"circle","size":4,"color":"#000000","opacity":1},
"encoding":{
"x":{"field":"p","type":"nominal","sort":{"field":"k","op":"min"}},
"xOffset":{"field":"j","type":"quantitative","scale":{"domain":[0,1],"range":[3.5,28.2]}},
"y":{"field":"v","type":"quantitative"}}}
]}
],"spacing":-12,
"resolve":{"scale":{"fill":"independent","xOffset":"independent"}}},
{"width":640,"height":143,
"title":{"text":"c","dx":-7,"offset":-10},
"layer":[
{"data":{"name":"cb"},
"mark":{"type":"rule","color":"#333333","strokeWidth":0.7},
"encoding":{
"x":{"field":"s","type":"nominal","sort":{"field":"k","op":"min"},"scale":{"type":"band","paddingInner":0,"paddingOuter":0.1},
"axis":{"labelAngle":-30,"labelAlign":"right","labelBaseline":"top","bandPosition":0.5,"labelFontSize":6.5,"titleFontSize":8.5},"title":"superclass"},
"y":{"field":"lw","type":"quantitative","scale":{"domain":[-5,105],"nice":false,"zero":false},
"axis":{"values":[0,12.5,25,37.5,50,62.5,75,87.5,100],"labelExpr":"datum.value % 25 == 0 ? datum.label : ''","tickOpacity":{"condition":{"test":"datum.value % 25 != 0","value":0},"value":1},"gridWidth":{"condition":{"test":"datum.value % 25 != 0","value":0.45},"value":0.9},"labelFontSize":6.8,"titleFontSize":8.5},
"title":["% of total microbes","(with co–occurrence strength ≥ 2)"]},
"y2":{"field":"uw"}}},
{"data":{"name":"cb"},
"mark":{"type":"bar","width":{"band":0.78},"stroke":"#333333","strokeWidth":0.7},
"encoding":{
"x":{"field":"s","type":"nominal","sort":{"field":"k","op":"min"}},
"y":{"field":"q1","type":"quantitative"},"y2":{"field":"q3"},
"fill":{"field":"k","type":"ordinal","scale":{"range":["#A6CEE3","#96C3DF","#86B9DA","#5A9FCF","#4A92C6","#3A85BD","#3F8EBF","#4E9CC1","#5FAAB4","#9FD08E","#A8D88E","#A4D58A","#86C872","#6CBA5C","#55AE4A","#3CA03A","#3E9A3E","#8CA866","#A9985E","#D6A486","#F8A6B2","#F69797","#F36A6A","#EE5050","#E53B3B","#E21F20","#E6392B","#EB5537","#F0764B","#F99E66","#FBB36E","#FDBA5E","#FDAA46","#FD9C36","#FE9029","#FF8C1C","#F7861C","#E8954F","#DC9A80","#C9A4B8","#BBA3CC","#A98FC9","#A089C2","#8E6EB6","#7D55A8","#8A6DA5","#9A80A8","#AE97AE","#C6B5A6","#EAE3AB","#F6F19A","#F3E18E","#E5C98A","#D29E5C","#C48549","#B8662C","#7F7F7F"]},"legend":null}}},
{"data":{"name":"cb"},
"mark":{"type":"bar","width":{"band":0.78},"fill":null,"stroke":"#333333","strokeWidth":1.3},
"encoding":{
"x":{"field":"s","type":"nominal","sort":{"field":"k","op":"min"}},
"y":{"field":"med","type":"quantitative"},"y2":{"field":"med"}}},
{"data":{"name":"cp"},
"transform":[{"lookup":"k","from":{"data":{"name":"cb"},"key":"k","fields":["s"]}},{"window":[{"op":"row_number","as":"rn"}]},{"calculate":"(datum.rn * 0.618034) % 1","as":"j"}],
"mark":{"type":"circle","size":2.5,"color":"#000000","opacity":1},
"encoding":{
"x":{"field":"s","type":"nominal","sort":{"field":"k","op":"min"}},
"xOffset":{"field":"j","type":"quantitative","scale":{"domain":[0,1],"range":[1.2,10]}},
"y":{"field":"v","type":"quantitative"}}}
]}
],
"columns":1,
"spacing":5,
"align":"none",
"resolve":{"scale":{"fill":"independent","xOffset":"independent"}}
}
